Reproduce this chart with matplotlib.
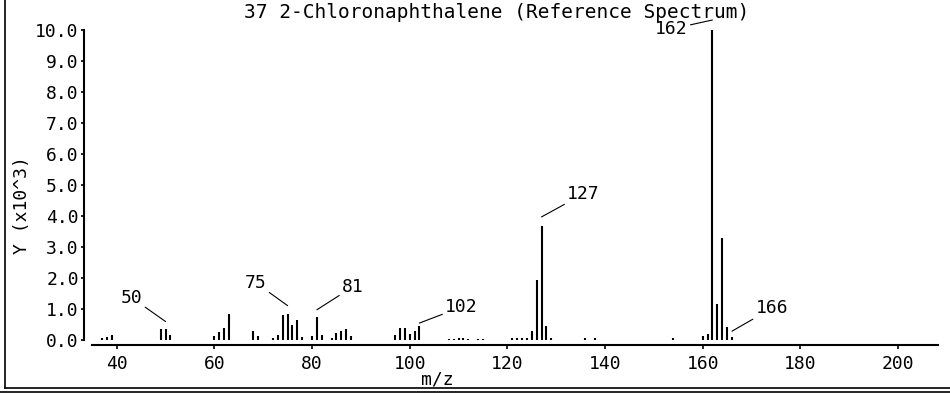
import matplotlib
matplotlib.use('Agg')
import matplotlib.pyplot as plt
import matplotlib.transforms as mtransforms
from matplotlib.lines import Line2D

# peak list (m/z, intensity in thousands)
mz = [37, 38, 39, 49, 50, 51, 60, 61, 62, 63, 68, 69,
      72, 73, 74, 75, 76, 77, 78, 80, 81, 82,
      84, 85, 86, 87, 88, 97, 98, 99, 100, 101, 102,
      108, 109, 110, 111, 112, 114, 115,
      121, 122, 123, 124, 125, 126, 127, 128, 129,
      136, 138, 154, 160, 161, 162, 163, 164, 165, 166]
intensity = [0.07, 0.1, 0.17, 0.35, 0.37, 0.17, 0.12, 0.25, 0.38, 0.85, 0.3, 0.12,
             0.05, 0.17, 0.8, 0.85, 0.5, 0.65, 0.1, 0.12, 0.75, 0.15,
             0.07, 0.22, 0.3, 0.35, 0.12, 0.15, 0.4, 0.4, 0.2, 0.3, 0.45,
             0.04, 0.04, 0.08, 0.07, 0.04, 0.04, 0.04,
             0.05, 0.05, 0.05, 0.06, 0.28, 1.95, 3.68, 0.45, 0.05,
             0.05, 0.05, 0.05, 0.12, 0.2, 10.0, 1.15, 3.3, 0.42, 0.09]

labeled = [50, 75, 81, 102, 127, 162, 166]
# (gap above peak, text dx, text dy) in pixels
label_style = {50: (7, -34, 24), 75: (8, -32, 23), 81: (7, 36, 23),
               102: (3, 42, 16), 127: (9, 42, 23), 162: (10, -41, -9),
               166: (6, 40, 23)}

xticks = [40, 60, 80, 100, 120, 140, 160, 180, 200]
yticks = [0, 1, 2, 3, 4, 5, 6, 7, 8, 9, 10]

plt.rcParams['font.family'] = 'DejaVu Sans Mono'

fig = plt.figure(figsize=(9.5, 3.94), dpi=100)
ax = fig.add_axes([92/950, 1-345/394, 846/950, 325/394])

ax.vlines(mz, 0, intensity, color='black', linewidth=1.5)

for m in labeled:
    h = intensity[mz.index(m)]
    gap, dx, dy = label_style[m]
    tr = mtransforms.offset_copy(ax.transData, fig=fig, x=0, y=gap, units='dots')
    ax.annotate(str(m), xy=(m, h), xycoords=tr, xytext=(dx, dy),
                textcoords='offset pixels', ha='center', va='center',
                fontsize=13,
                arrowprops=dict(arrowstyle='-', color='black', lw=0.8,
                                shrinkA=0, shrinkB=0))

ax.set_xlim(34.94, 208.2)
ax.set_ylim(-5/31, 320/31)
ax.set_xticks(xticks)
ax.set_xticklabels([str(t) for t in xticks])
ax.set_yticks(yticks)
ax.set_yticklabels(['%.1f' % t for t in yticks])

for s in ['top', 'right']:
    ax.spines[s].set_visible(False)
ax.spines['left'].set_position(('outward', 6))
ax.spines['left'].set_bounds(0, 10)
ax.spines['left'].set_linewidth(1.5)
ax.spines['bottom'].set_linewidth(1.5)
ax.tick_params(axis='x', length=3, width=1.2, pad=4, labelsize=13)
ax.tick_params(axis='y', length=2.5, width=1.2, pad=1, labelsize=13)

fig.text(497/950, 1-12/394, '37 2-Chloronaphthalene (Reference Spectrum)',
         ha='center', va='center', fontsize=14)
fig.text(22/950, 1-205/394, 'Y (x10^3)', rotation=90,
         ha='center', va='center', fontsize=13)
fig.text(437/950, 1-380/394, 'm/z', ha='center', va='center', fontsize=13)

# outer frame
fig.add_artist(Line2D([5/950, 5/950], [1.0, 1-388/394], transform=fig.transFigure,
                      color='black', lw=1.2))
fig.add_artist(Line2D([5/950, 1.0], [1-388/394, 1-388/394], transform=fig.transFigure,
                      color='black', lw=1.2))
fig.add_artist(Line2D([0.0, 1.0], [1-392/394, 1-392/394], transform=fig.transFigure,
                      color='black', lw=1.2))

plt.savefig('out.png', dpi=100)
